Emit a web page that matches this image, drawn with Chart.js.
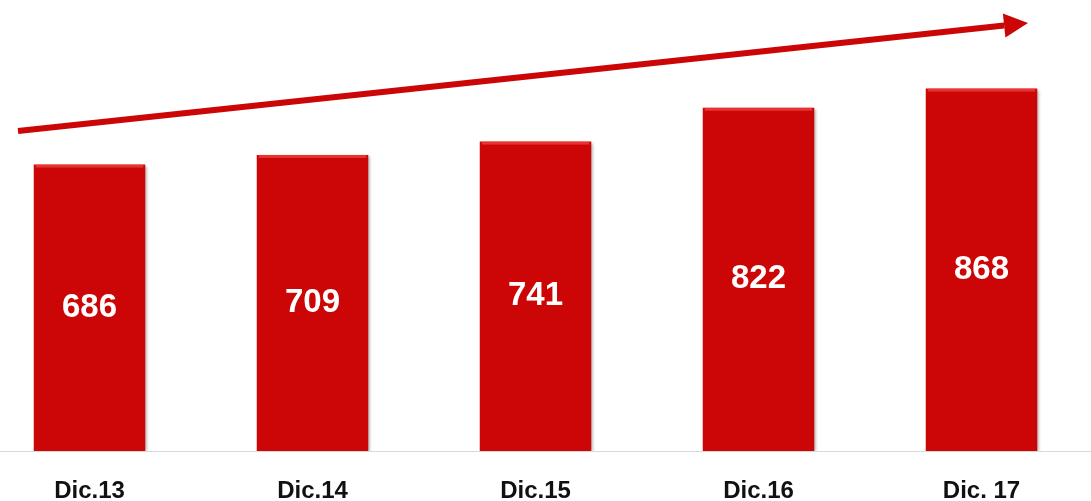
<!DOCTYPE html>
<html>
<head>
<meta charset="utf-8">
<script src="https://cdn.jsdelivr.net/npm/chart.js@4.4.0/dist/chart.umd.min.js"></script>
<style>
    html, body { margin: 0; padding: 0; background: #fff; overflow: hidden; }
    #wrap { position: absolute; left: -22px; top: 0; width: 1115px; height: 531px; }
</style>
</head>
<body>
<div id="wrap"><canvas id="barChart"></canvas></div>
<script>
// chart data
const categories = ["Dic.13", "Dic.14", "Dic.15", "Dic.16", "Dic. 17"];
const values = [686, 709, 741, 822, 868];

const barRed = "#cc0606";

// white value labels in the middle of each bar
const valueLabels = {
    id: "valueLabels",
    afterDatasetsDraw(chart) {
        const ctx = chart.ctx;
        const meta = chart.getDatasetMeta(0);
        ctx.save();
        ctx.font = "bold 33px 'Liberation Sans', Arial, sans-serif";
        ctx.textAlign = "center";
        ctx.textBaseline = "middle";
        meta.data.forEach((bar, i) => {
            // small bevel on top edge
            ctx.fillStyle = "rgba(255,90,90,0.55)";
            ctx.fillRect(bar.x - bar.width / 2 + 2, bar.y, bar.width - 4, 3);
            ctx.fillStyle = "#fff";
            ctx.fillText(values[i], bar.x, (bar.y + bar.base) / 2);
        });
        ctx.restore();
    }
};

// soft shadow behind bars
const barShadow = {
    id: "barShadow",
    beforeDatasetsDraw(chart) {
        const ctx = chart.ctx;
        ctx.save();
        ctx.shadowColor = "rgba(0,0,0,0.35)";
        ctx.shadowBlur = 3;
        ctx.shadowOffsetX = 2;
        ctx.shadowOffsetY = 1;
    },
    afterDatasetsDraw(chart) {
        chart.ctx.restore();
    }
};

// growth arrow over the bars
const trendArrow = {
    id: "trendArrow",
    afterDraw(chart) {
        const ctx = chart.ctx;
        const area = chart.chartArea;
        const x0 = area.left + 40, y0 = 131;
        const x1 = area.left + 1050, y1 = 23;
        const ang = Math.atan2(y1 - y0, x1 - x0);
        const headLen = 24, headW = 12;
        const bx = x1 - headLen * Math.cos(ang);
        const by = y1 - headLen * Math.sin(ang);
        ctx.save();
        ctx.strokeStyle = barRed;
        ctx.fillStyle = barRed;
        ctx.lineWidth = 6;
        ctx.beginPath();
        ctx.moveTo(x0, y0);
        ctx.lineTo(bx, by);
        ctx.stroke();
        ctx.beginPath();
        ctx.moveTo(x1, y1);
        ctx.lineTo(bx + headW * Math.sin(ang), by - headW * Math.cos(ang));
        ctx.lineTo(bx - headW * Math.sin(ang), by + headW * Math.cos(ang));
        ctx.closePath();
        ctx.fill();
        ctx.restore();
    }
};

document.addEventListener("DOMContentLoaded", () => {
    const ctx = document.getElementById("barChart").getContext("2d");
    new Chart(ctx, {
        type: "bar",
        data: {
            labels: categories,
            datasets: [{
                data: values,
                backgroundColor: barRed,
                borderWidth: 0,
                barPercentage: 0.5,
                categoryPercentage: 1.0
            }]
        },
        options: {
            responsive: true,
            maintainAspectRatio: false,
            animation: false,
            layout: { padding: 0 },
            plugins: {
                legend: { display: false },
                tooltip: { enabled: false }
            },
            scales: {
                x: {
                    grid: { display: false, drawTicks: false },
                    border: { display: true, color: "#d9d9d9", width: 1 },
                    ticks: {
                        padding: 28,
                        color: "#111",
                        font: { family: "'Liberation Sans', Arial, sans-serif", size: 24, weight: "bold", lineHeight: 1 }
                    }
                },
                y: {
                    display: false,
                    min: 0,
                    max: 1080
                }
            }
        },
        plugins: [barShadow, valueLabels, trendArrow]
    });
});
</script>
</body>
</html>
